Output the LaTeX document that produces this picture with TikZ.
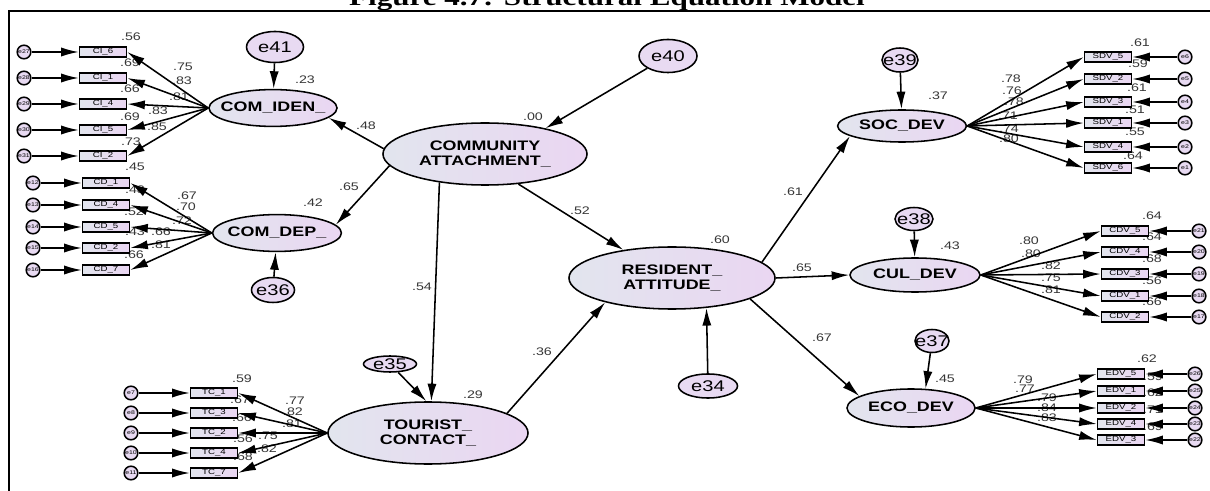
\documentclass[tikz,border=0pt]{standalone}
\usepackage{fontspec}
\setmainfont{Liberation Serif}
\newfontfamily\amosfont[FakeStretch=1.3]{Liberation Sans}
\newfontfamily\capfont[FakeStretch=1.3]{Liberation Serif}
\usetikzlibrary{shapes.geometric, arrows.meta}
\definecolor{latleft}{RGB}{226,229,238}
\definecolor{latright}{RGB}{234,214,242}
\definecolor{errfill}{RGB}{232,218,242}
\definecolor{numgray}{RGB}{55,55,55}

\begin{document}
\begin{tikzpicture}[x=0.025cm, y=-0.025cm, >={Latex[length=12.5pt,width=6.5pt]}, line width=1.1pt,
    latent/.style={ellipse, draw, line width=1.1pt, left color=latleft, right color=latright,
      inner xsep=-40pt, inner ysep=-8pt, align=center,
      font=\amosfont\bfseries\fontsize{9.8}{10.5}\selectfont},
    obs/.style={rectangle, draw, left color=latleft, right color=latright,
      minimum width=1.175cm, minimum height=0.24cm, inner sep=0pt,
      font=\amosfont\fontsize{5.3}{5.3}\selectfont},
    err/.style={ellipse, draw, fill=errfill, inner xsep=-10pt, inner ysep=-3pt,
      font=\amosfont\fontsize{11}{11}\selectfont},
    dot/.style={circle, draw, fill=errfill, minimum size=0.34cm, inner sep=0pt,
      font=\amosfont\fontsize{3.8}{3.8}\selectfont},
    coef/.style={font=\amosfont\fontsize{7.8}{7.8}\selectfont, text=numgray, inner sep=0pt}]
  % 1. page, caption and frame
  \path[use as bounding box, fill=white] (0,0) rectangle (1210,491);
  \node[font=\capfont\bfseries\fontsize{17}{20}\selectfont, anchor=base, inner sep=0pt] (title) at (607,6) {Figure 4.7: Structural Equation Model};
  \draw[line width=1.3pt] (9,491) -- (9,11) -- (1210,11);

  % 2. latent variables
  \node[latent, minimum width=5.1cm, minimum height=1.55cm] (ca) at (485,154) {COMMUNITY\\ATTACHMENT\_};
  \node[latent, minimum width=5.15cm, minimum height=1.55cm] (ra) at (672,278) {RESIDENT\_\\ATTITUDE\_};
  \node[latent, minimum width=5cm, minimum height=1.55cm] (tc) at (428,433) {TOURIST\_\\CONTACT\_};
  \node[latent, minimum width=3.2cm, minimum height=0.92cm] (comiden) at (273,108) {COM\_IDEN\_};
  \node[latent, minimum width=3.22cm, minimum height=0.92cm] (comdep) at (277,233) {COM\_DEP\_};
  \node[latent, minimum width=3.22cm, minimum height=0.8cm] (socdev) at (902,126) {SOC\_DEV};
  \node[latent, minimum width=3.25cm, minimum height=0.85cm] (culdev) at (915,275) {CUL\_DEV};
  \node[latent, minimum width=3.2cm, minimum height=0.95cm] (ecodev) at (911,408) {ECO\_DEV};

  % 3. disturbances
  \node[err, minimum width=1.425cm, minimum height=0.775cm] (e41) at (275,47) {e41};
  \node[err, minimum width=1.45cm, minimum height=0.825cm] (e40) at (668,56) {e40};
  \node[err, minimum width=1.075cm, minimum height=0.625cm] (e36) at (273,290) {e36};
  \node[err, minimum width=1.325cm, minimum height=0.4cm] (e35) at (390,364) {e35};
  \node[err, minimum width=1.475cm, minimum height=0.6cm] (e34) at (708,386) {e34};
  \node[err, minimum width=0.9cm, minimum height=0.6cm] (e39) at (900,60) {e39};
  \node[err, minimum width=0.95cm, minimum height=0.575cm] (e38) at (914,219) {e38};
  \node[err, minimum width=0.85cm, minimum height=0.575cm] (e37) at (932,341) {e37};

  % 4. estimates (drawn first, arrows go over them)
  \foreach \v/\x/\y [count=\k] in {.23/305/80, .42/313/203, .00/533/117, .48/366/126, .65/349/187,
      .52/580/211, .54/422/287, .29/473/395, .36/542/352, .60/720/240, .61/793/192,
      .65/802/268, .67/822/338, .37/938/96, .43/950/246, .45/945/379}
    \node[coef] (path\k) at (\x,\y) {\v};
  \foreach \v/\x/\y [count=\k] in {.56/131/37, .69/130/63, .66/130/89, .69/130/117, .73/131/142,
      .75/183/67, .83/182/81, .81/179/97, .83/158/111, .85/157/127}
    \node[coef] (lci\k) at (\x,\y) {\v};
  \foreach \v/\x/\y [count=\k] in {.45/135/167, .48/135/190, .52/134/212, .43/135/232, .66/134/255,
      .67/187/196, .70/186/207, .72/182/221, .66/161/232, .81/161/245}
    \node[coef] (lcd\k) at (\x,\y) {\v};
  \foreach \v/\x/\y [count=\k] in {.59/242/379, .67/240/400, .66/242/418, .56/243/439, .68/243/457,
      .77/295/401, .82/293/412, .81/292/424, .75/268/436, .82/267/449}
    \node[coef] (ltc\k) at (\x,\y) {\v};
  \foreach \v/\x/\y [count=\k] in {.61/1140/43, .59/1138/64, .61/1137/88, .51/1135/110, .55/1135/132, .64/1133/156,
      .78/1011/79, .76/1012/91, .78/1014/102, .71/1008/116, .74/1009/129, .80/1009/139}
    \node[coef] (lsdv\k) at (\x,\y) {\v};
  \foreach \v/\x/\y [count=\k] in {.64/1152/216, .64/1152/237, .68/1152/259, .56/1152/281, .66/1152/302,
      .80/1029/241, .80/1031/254, .82/1051/266, .75/1051/278, .81/1051/290}
    \node[coef] (lcdv\k) at (\x,\y) {\v};
  \foreach \v/\x/\y [count=\k] in {.62/1147/359, .59/1153/377, .62/1153/393, .71/1153/410, .69/1153/427,
      .79/1023/380, .77/1025/389, .79/1047/398, .84/1047/408, .83/1047/418}
    \node[coef] (ledv\k) at (\x,\y) {\v};

  % 5. measurement models
  \foreach \n/\y/\e in {6/52/27, 1/78/28, 4/104/29, 5/130/30, 2/156/31}{
    \node[obs] (ci\n) at (103,\y) {CI\_\n};
    \node[dot] (e\e) at (24,\y) {e\e};
    \draw[->] (e\e) -- (ci\n);
    \draw[->] (comiden.west) -- (ci\n.east);
  }
  \foreach \n/\y/\e in {1/183/12, 4/205/13, 5/227/14, 2/248/15, 7/270/16}{
    \node[obs] (cd\n) at (106,\y) {CD\_\n};
    \node[dot] (e\e) at (33,\y) {e\e};
    \draw[->] (e\e) -- (cd\n);
    \draw[->] (comdep.west) -- (cd\n.east);
  }
  \foreach \n/\y/\e in {1/393/7, 3/413/8, 2/433/9, 4/453/10, 7/473/11}{
    \node[obs] (tc\n) at (214,\y) {TC\_\n};
    \node[dot] (e\e) at (131,\y) {e\e};
    \draw[->] (e\e) -- (tc\n);
    \draw[->] (tc.west) -- (tc\n.east);
  }
  \foreach \n/\y/\e in {5/57/6, 2/79/5, 3/102/4, 1/123/3, 4/147/2, 6/168/1}{
    \node[obs] (sdv\n) at (1108,\y) {SDV\_\n};
    \node[dot] (e\e) at (1185,\y) {e\e};
    \draw[->] (e\e) -- (sdv\n);
    \draw[->] (socdev.east) -- (sdv\n.west);
  }
  \foreach \n/\y/\e in {5/231/21, 4/252/20, 3/274/19, 1/296/18, 2/317/17}{
    \node[obs] (cdv\n) at (1125,\y) {CDV\_\n};
    \node[dot] (e\e) at (1199,\y) {e\e};
    \draw[->] (e\e) -- (cdv\n);
    \draw[->] (culdev.east) -- (cdv\n.west);
  }
  \foreach \n/\y/\e in {5/374/26, 1/391/25, 2/408/24, 4/424/23, 3/440/22}{
    \node[obs] (edv\n) at (1121,\y) {EDV\_\n};
    \node[dot] (e\e) at (1195,\y) {e\e};
    \draw[->] (e\e) -- (edv\n);
    \draw[->] (ecodev.east) -- (edv\n.west);
  }

  % 6. structural paths
  \draw[->] (e41) -- (comiden);
  \draw[->] (e36) -- (comdep);
  \draw[->] (e40) -- (ca.23);
  \draw[->] (ca.177) -- (comiden.-10);
  \draw[->] (ca.187) -- (comdep.8);
  \draw[->] (ca.212) -- (tc.84);
  \draw[->] (ca.-42) -- (ra.150);
  \draw[->] (e35) -- (tc.93);
  \draw[->] (tc.14) -- (ra.200);
  \draw[->] (e34) -- (ra.-41);
  \draw[->] (ra.10) -- (socdev.191);
  \draw[->] (ra.east) -- (culdev.west);
  \draw[->] (ra.-15) -- (ecodev.167);
  \draw[->] (e39) -- (socdev);
  \draw[->] (e38) -- (culdev);
  \draw[->] (e37) -- (ecodev.53);
\end{tikzpicture}
\end{document}
